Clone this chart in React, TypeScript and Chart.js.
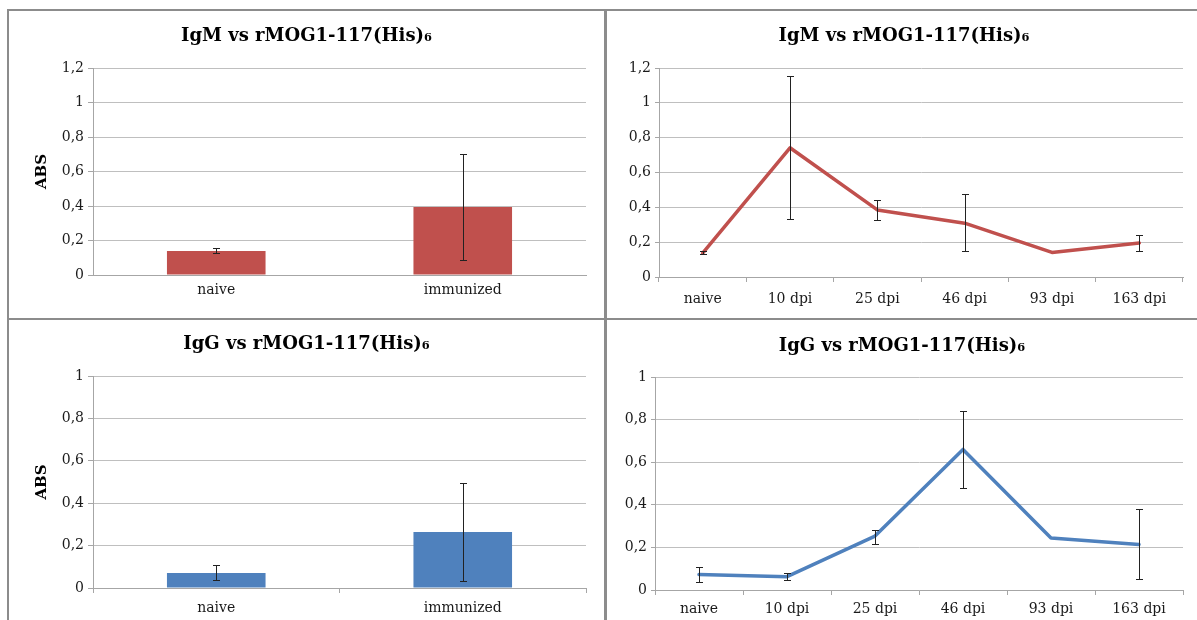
import React, { useEffect, useRef } from 'react';
import { Chart, registerables } from 'chart.js';

Chart.register(...registerables);

// ---------- data ----------
const barCategories = ['naive', 'immunized'];
const timeCategories = ['naive', '10 dpi', '25 dpi', '46 dpi', '93 dpi', '163 dpi'];

const igmBarValues = [0.139, 0.394];
const igmBarLow = [0.13, 0.087];
const igmBarHigh = [0.155, 0.7];

const igmLineValues = [0.137, 0.742, 0.385, 0.309, 0.141, 0.195];
const igmLineLow = [0.13, 0.332, 0.33, 0.147, 0.141, 0.152];
const igmLineHigh = [0.15, 1.152, 0.44, 0.475, 0.141, 0.244];

const iggBarValues = [0.071, 0.264];
const iggBarLow = [0.039, 0.031];
const iggBarHigh = [0.11, 0.493];

const iggLineValues = [0.073, 0.0625, 0.253, 0.66, 0.244, 0.214];
const iggLineLow = [0.0375, 0.045, 0.216, 0.48, 0.244, 0.05];
const iggLineHigh = [0.106, 0.078, 0.284, 0.842, 0.244, 0.378];

const yTicksIgM = ['0', '0,2', '0,4', '0,6', '0,8', '1', '1,2'];
const yTicksIgG = ['0', '0,2', '0,4', '0,6', '0,8', '1'];

const titleIgM = 'IgM vs rMOG1-117(His)₆';
const titleIgG = 'IgG vs rMOG1-117(His)₆';
const yAxisTitle = 'ABS';

const RED = '#C0504D';
const BLUE = '#4F81BD';
const FONT = "'DejaVu Serif', serif";

// ---------- error bar plugin ----------
const errorBarPlugin = {
  id: 'errorBars',
  afterDatasetsDraw(chart: any, _args: any, opts: any) {
    if (!opts || !opts.low) return;
    const meta = chart.getDatasetMeta(0);
    const ys = chart.scales.y;
    const ctx = chart.ctx;
    const cap = opts.cap ?? 3.5;
    ctx.save();
    ctx.strokeStyle = opts.color || '#333';
    ctx.lineWidth = 1;
    meta.data.forEach((el: any, i: number) => {
      const lo = opts.low[i];
      const hi = opts.high[i];
      if (Math.abs(hi - lo) < 1e-6) return;
      const x = Math.round(el.x) + 0.5;
      const y1 = Math.round(ys.getPixelForValue(hi)) + 0.5;
      const y2 = Math.round(ys.getPixelForValue(lo)) + 0.5;
      ctx.beginPath();
      ctx.moveTo(x, y1);
      ctx.lineTo(x, y2);
      ctx.moveTo(x - cap, y1);
      ctx.lineTo(x + cap, y1);
      ctx.moveTo(x - cap, y2);
      ctx.lineTo(x + cap, y2);
      ctx.stroke();
    });
    ctx.restore();
  },
};

type Spec = {
  type: 'bar' | 'line';
  labels: string[];
  values: number[];
  low: number[];
  high: number[];
  color: string;
  title: string;
  yTicks: string[];
  yMax: number;
  yTitle?: string;
  w: number;
  h: number;
  padLeft: number;
  area: { left: number; right: number; top: number; bottom: number };
  titleY: number;
  xTickLen: number;
  xTickColor: string;
  xPad: number;
  yTickLen: number;
  yPad: number;
};

function makeConfig(s: Spec): any {
  const titleSize = 18;
  const titleLH = titleSize * 1.2;
  const padTop = s.titleY - titleLH / 2;
  const padBottom = s.area.top - padTop - titleLH;
  const dataset: any =
    s.type === 'bar'
      ? {
          data: s.values,
          backgroundColor: s.color,
          borderWidth: 0,
          barPercentage: 0.4,
          categoryPercentage: 1,
        }
      : {
          data: s.values,
          borderColor: s.color,
          borderWidth: 3.5,
          pointRadius: 0,
          tension: 0,
          fill: false,
          borderJoinStyle: 'round',
          borderCapStyle: 'round',
        };
  return {
    type: s.type,
    data: { labels: s.labels, datasets: [dataset] },
    plugins: [errorBarPlugin],
    options: {
      animation: false,
      responsive: false,
      devicePixelRatio: 1,
      layout: {
        padding: { left: s.padLeft, top: 0, bottom: 0, right: s.w - s.area.right },
      },
      plugins: {
        legend: { display: false },
        tooltip: { enabled: false },
        title: {
          display: true,
          text: s.title,
          color: '#000',
          font: { family: FONT, size: titleSize, weight: 'bold', lineHeight: 1.2 },
          padding: { top: padTop, bottom: padBottom },
        },
        errorBars: { low: s.low, high: s.high, color: '#222', cap: 3.5 },
      },
      scales: {
        x: {
          type: 'category',
          offset: true,
          grid: {
            offset: true,
            drawOnChartArea: false,
            drawTicks: true,
            tickLength: s.xTickLen,
            tickColor: s.xTickColor,
          },
          border: { display: true, color: '#A6A6A6', width: 1 },
          ticks: {
            color: '#1a1a1a',
            padding: s.xPad,
            maxRotation: 0,
            autoSkip: false,
            font: { family: FONT, size: 14, lineHeight: 1.2 },
          },
          afterFit: (scale: any) => {
            scale.height = s.h - s.area.bottom;
          },
        },
        y: {
          min: 0,
          max: s.yMax,
          grid: {
            color: '#BFBFBF',
            tickColor: '#A6A6A6',
            tickLength: s.yTickLen,
            lineWidth: 1,
          },
          border: { display: true, color: '#A6A6A6', width: 1 },
          ticks: {
            stepSize: 0.2,
            color: '#1a1a1a',
            padding: s.yPad,
            font: { family: FONT, size: 14, lineHeight: 1.2 },
            callback: (_v: any, i: number) => s.yTicks[i],
          },
          title: s.yTitle
            ? {
                display: true,
                text: s.yTitle,
                color: '#000',
                font: { family: FONT, size: 15, weight: 'bold', lineHeight: 1.2 },
                padding: { top: 33 - s.padLeft - 9, bottom: 0 },
              }
            : { display: false },
          afterFit: (scale: any) => {
            scale.width = s.area.left - s.padLeft;
          },
        },
      },
    },
  };
}

function ChartCanvas({ spec, left, top }: { spec: Spec; left: number; top: number }) {
  const ref = useRef<HTMLCanvasElement | null>(null);
  useEffect(() => {
    if (!ref.current) return;
    const chart = new Chart(ref.current, makeConfig(spec));
    return () => chart.destroy();
  }, [spec]);
  return (
    <canvas
      ref={ref}
      width={spec.w}
      height={spec.h}
      style={{ position: 'absolute', left, top, width: spec.w, height: spec.h }}
    />
  );
}

const specTL: Spec = {
  type: 'bar',
  labels: barCategories,
  values: igmBarValues,
  low: igmBarLow,
  high: igmBarHigh,
  color: RED,
  title: titleIgM,
  yTicks: yTicksIgM,
  yMax: 1.2,
  yTitle: yAxisTitle,
  w: 595,
  h: 307,
  padLeft: 18,
  area: { left: 84, right: 577, top: 57, bottom: 264 },
  titleY: 25,
  xTickLen: 5,
  xTickColor: 'rgba(0,0,0,0)',
  xPad: 2,
  yTickLen: 5,
  yPad: 4,
};

const specTR: Spec = {
  type: 'line',
  labels: timeCategories,
  values: igmLineValues,
  low: igmLineLow,
  high: igmLineHigh,
  color: RED,
  title: titleIgM,
  yTicks: yTicksIgM,
  yMax: 1.2,
  w: 590,
  h: 307,
  padLeft: 18,
  area: { left: 52, right: 576, top: 57, bottom: 266 },
  titleY: 25,
  xTickLen: 5,
  xTickColor: '#A6A6A6',
  xPad: 9,
  yTickLen: 4,
  yPad: 4,
};

const specBL: Spec = {
  type: 'bar',
  labels: barCategories,
  values: iggBarValues,
  low: iggBarLow,
  high: iggBarHigh,
  color: BLUE,
  title: titleIgG,
  yTicks: yTicksIgG,
  yMax: 1,
  yTitle: yAxisTitle,
  w: 595,
  h: 300,
  padLeft: 18,
  area: { left: 84, right: 577, top: 56, bottom: 268 },
  titleY: 24,
  xTickLen: 5,
  xTickColor: '#A6A6A6',
  xPad: 7,
  yTickLen: 5,
  yPad: 4,
};

const specBR: Spec = {
  type: 'line',
  labels: timeCategories,
  values: iggLineValues,
  low: iggLineLow,
  high: iggLineHigh,
  color: BLUE,
  title: titleIgG,
  yTicks: yTicksIgG,
  yMax: 1,
  w: 590,
  h: 300,
  padLeft: 14,
  area: { left: 48, right: 576, top: 57, bottom: 270 },
  titleY: 26,
  xTickLen: 5,
  xTickColor: '#A6A6A6',
  xPad: 6,
  yTickLen: 4,
  yPad: 4,
};

const lineStyle = (l: number, t: number, w: number, h: number): React.CSSProperties => ({
  position: 'absolute',
  left: l,
  top: t,
  width: w,
  height: h,
  background: '#8C8C8C',
});

export default function App() {
  return (
    <div
      style={{
        position: 'absolute',
        left: 0,
        top: 0,
        width: 1197,
        height: 620,
        background: '#fff',
        overflow: 'hidden',
      }}
    >
      <ChartCanvas spec={specTL} left={9} top={11} />
      <ChartCanvas spec={specTR} left={607} top={11} />
      <ChartCanvas spec={specBL} left={9} top={320} />
      <ChartCanvas spec={specBR} left={607} top={320} />
      <div style={lineStyle(7, 9, 1190, 2)} />
      <div style={lineStyle(7, 9, 2, 611)} />
      <div style={lineStyle(604, 9, 3, 611)} />
      <div style={lineStyle(7, 318, 1190, 2)} />
    </div>
  );
}
